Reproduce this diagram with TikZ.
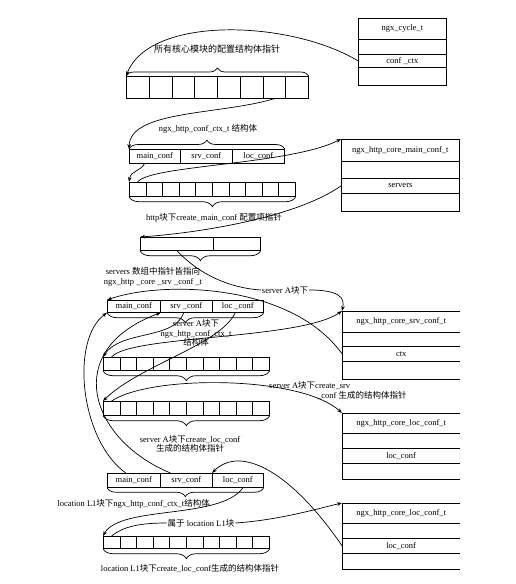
\documentclass[tikz,border=0pt]{standalone}
\usepackage{fontspec}
\setmainfont{Liberation Serif}
\newfontfamily\cjk{Noto Sans CJK SC}
\usetikzlibrary{decorations.pathreplacing,arrows.meta,calc}
\tikzset{
  ln/.style={line width=0.7pt},
  cellbox/.style={draw, line width=0.7pt, inner sep=0pt, anchor=north west},
  rowt/.style={inner sep=0pt, anchor=north west, minimum width=118pt},
  lbl/.style={inner sep=1pt},
  brc/.style={decorate, decoration={brace, amplitude=#1}, line width=0.7pt},
  con/.style={line width=0.7pt, -{Stealth[length=5pt,width=3.6pt]}},
  pl/.style={line width=0.7pt},
  every node/.style={font=\fontsize{8.5}{9.5}\selectfont}
}
\newcommand\mkcells[6]{\foreach \i in {1,...,#4}{\node[cellbox,minimum width=#5pt,minimum height=#6pt] (#1-\i) at ({#2+(\i-1)*#5},#3) {};}}
\begin{document}
\begin{tikzpicture}[x=1pt,y=-1pt]
\path[use as bounding box] (0,0) rectangle (515,584);

% ---------- ngx_cycle_t ----------
\node[cellbox,minimum width=88pt,minimum height=21pt] (cyc-1) at (358,18) {ngx\_cycle\_t};
\node[cellbox,minimum width=88pt,minimum height=15pt] (cyc-2) at (358,39) {};
\node[cellbox,minimum width=88pt,minimum height=13pt] (cyc-3) at (358,54) {conf \_ctx};
\node[cellbox,minimum width=88pt,minimum height=18pt] (cyc-4) at (358,67) {};

% ---------- array 1 ----------
\mkcells{a1}{126}{76}{8}{22.75}{22}
\draw[brc=8pt] (a1-1.north west) -- (a1-8.north east);
\node[lbl,font=\fontsize{9}{10}\selectfont\cjk] (t1) at (217,49) {所有核心模块的配置结构体指针};

% ---------- ctx 1 ----------
\node[cellbox,minimum width=51pt,minimum height=14pt] (c1m) at (129,149) {main\_conf};
\node[cellbox,minimum width=52pt,minimum height=14pt] (c1s) at (180,149) {srv\_conf};
\node[cellbox,minimum width=52pt,minimum height=14pt] (c1l) at (232,149) {loc\_conf};
\draw[brc=9pt] (c1m.north west) -- (c1l.north east);
\node[lbl] (t2) at (208,129) {ngx\_http\_conf\_ctx\_t {\cjk 结构体}};

% ---------- array 2 ----------
\mkcells{a2}{129}{182}{10}{16.6}{14}
\draw[brc=10pt] (a2-10.south east) -- (a2-1.south west);
\node[lbl] (t3) at (214,218) {http{\cjk 块下}create\_main\_conf {\cjk 配置项指针}};

% ---------- ngx_http_core_main_conf_t ----------
\node[cellbox,minimum width=118pt,minimum height=22pt] (cm-1) at (341,139) {ngx\_http\_core\_main\_conf\_t};
\node[cellbox,minimum width=118pt,minimum height=17pt] (cm-2) at (341,161) {};
\node[cellbox,minimum width=118pt,minimum height=15pt] (cm-3) at (341,178) {servers};
\node[cellbox,minimum width=118pt,minimum height=18pt] (cm-4) at (341,193) {};

% ---------- servers array ----------
\node[cellbox,minimum width=73pt,minimum height=13pt] (a3a) at (140,237) {};
\node[cellbox,minimum width=47pt,minimum height=13pt] (a3b) at (213,237) {};
\draw[brc=10pt] (a3b.south east) -- (a3a.south west);
\node[lbl,align=center] (t4) at (153,277) {servers {\cjk 数组中指针皆指向}\\ngx\_http \_core \_srv \_conf \_t};

% ---------- ctx 2 ----------
\node[cellbox,minimum width=53pt,minimum height=12pt] (c2m) at (107,300) {main\_conf};
\node[cellbox,minimum width=52pt,minimum height=12pt] (c2s) at (160,300) {srv \_conf};
\node[cellbox,minimum width=51pt,minimum height=12pt] (c2l) at (212,300) {loc \_conf};
\draw[brc=10pt] (c2l.south east) -- (c2m.south west);
\node[lbl,align=center] (t5) at (196,333) {server A{\cjk 块下}\\ngx\_http\_conf\_ctx\_t\\{\cjk 结构体}};

% ---------- ngx_http_core_srv_conf_t ----------
\node[rowt,minimum height=21pt] (srv-1) at (342,311) {ngx\_http\_core\_srv\_conf\_t};
\node[rowt,minimum height=14pt] (srv-2) at (342,332) {};
\node[rowt,minimum height=15pt] (srv-3) at (342,346) {ctx};
\node[rowt,minimum height=18pt] (srv-4) at (342,361) {};
\draw[ln] (srv-1.north east) -- (srv-1.north west) -- (srv-4.south west) -- (srv-4.south east);
\foreach \i in {1,2,3}{\draw[ln] (srv-\i.south west) -- (srv-\i.south east);}

% ---------- array 4 ----------
\mkcells{a4}{103}{357}{10}{16.6}{13}
\draw[brc=10pt] (a4-10.south east) -- (a4-1.south west);
\node[lbl,anchor=west] (t6a) at (268,386) {server A{\cjk 块下}create\_srv};
\node[lbl,anchor=west] (t6b) at (316,395) {\_conf {\cjk 生成的结构体指针}};

% ---------- array 5 ----------
\mkcells{a5}{103}{401}{10}{16.6}{14}
\draw[brc=10pt] (a5-10.south east) -- (a5-1.south west);
\node[lbl,align=center] (t7) at (190,444) {server A{\cjk 块下}create\_loc\_conf\\{\cjk 生成的结构体指针}};

% ---------- ngx_http_core_loc_conf_t (server) ----------
\node[rowt,minimum height=20pt] (lc1-1) at (342,413) {ngx\_http\_core\_loc\_conf\_t};
\node[rowt,minimum height=15pt] (lc1-2) at (342,433) {};
\node[rowt,minimum height=15pt] (lc1-3) at (342,448) {loc\_conf};
\node[rowt,minimum height=16pt] (lc1-4) at (342,463) {};
\draw[ln] (lc1-1.north east) -- (lc1-1.north west) -- (lc1-4.south west) -- (lc1-4.south east);
\foreach \i in {1,2,3}{\draw[ln] (lc1-\i.south west) -- (lc1-\i.south east);}

% ---------- ctx 3 ----------
\node[cellbox,minimum width=53pt,minimum height=14pt] (c3m) at (107,473) {main\_conf};
\node[cellbox,minimum width=52pt,minimum height=14pt] (c3s) at (160,473) {srv\_conf};
\node[cellbox,minimum width=51pt,minimum height=14pt] (c3l) at (212,473) {loc\_conf};
\draw[brc=9pt] (c3l.south east) -- (c3m.south west);
\node[lbl,anchor=east] (t8) at (211,504) {location L1{\cjk 块下}ngx\_http\_conf\_ctx\_t{\cjk 结构体}};

% ---------- array 6 ----------
\mkcells{a6}{103}{536}{10}{16.6}{12}
\draw[brc=10pt] (a6-10.south east) -- (a6-1.south west);
\node[lbl] (t9) at (190,568) {location L1{\cjk 块下}create\_loc\_conf{\cjk 生成的结构体指针}};

% ---------- ngx_http_core_loc_conf_t (location) ----------
\node[rowt,minimum height=20pt] (lc2-1) at (342,503) {ngx\_http\_core\_loc\_conf\_t};
\node[rowt,minimum height=15pt] (lc2-2) at (342,523) {};
\node[rowt,minimum height=15pt] (lc2-3) at (342,538) {loc\_conf};
\node[rowt,minimum height=16pt] (lc2-4) at (342,553) {};
\draw[ln] (lc2-1.north east) -- (lc2-1.north west) -- (lc2-4.south west) -- (lc2-4.south east);
\foreach \i in {1,2,3}{\draw[ln] (lc2-\i.south west) -- (lc2-\i.south east);}

% ---------- labels on connectors ----------
\node[lbl] (sA) at (285,290) {server A{\cjk 块下}};
\node[lbl] (sB) at (201,523) {{\cjk 属于} location L1{\cjk 块}};

% ---------- connectors ----------
\draw[con] (cyc-3.west) .. controls (290,20) and (150,15) .. (a1-1.north west);
\draw[con] (a1-7.south) .. controls (220,115) and (130,110) .. (c1m.north west);
\draw[con] ($(c1m.south west)!0.3!(c1m.south east)$) .. controls (140,172) and (131,170) .. (a2-1.north west);
\draw[con] (a2-1.north) .. controls (150,165) and (290,165) .. (cm-1.north west);
\draw[con] (cm-3.west) .. controls (300,215) and (210,232) .. (a3a.north west);
\draw[pl] (a3a.south) .. controls (200,275) and (230,288) .. (sA.west);
\draw[con] (sA.east) .. controls (340,290) and (345,298) .. (srv-1.north west);
\draw[con] (srv-3.west) .. controls (290,282) and (160,281) .. (c2m.north west);
\draw[con] (a4-1.north) .. controls (130,335) and (300,340) .. (srv-1.north west);
\draw[con] ($(c2s.south west)!0.45!(c2s.south east)$) .. controls (175,340) and (120,330) .. (a4-1.north west);
\draw[con] ($(c2l.south west)!0.45!(c2l.south east)$) .. controls (220,345) and (140,365) .. (a5-1.north west);
\draw[con] (a5-1.north) .. controls (150,375) and (300,375) .. (lc1-1.north west);
\draw[con] ($(c3m.north west)!0.35!(c3m.north east)$) .. controls (80,440) and (70,340) .. (c2m.south west);
\draw[con] ($(c3s.north west)!0.2!(c3s.north east)$) .. controls (90,440) and (60,350) .. (c2m.south east);
\draw[con] (lc2-3.west) .. controls (290,470) and (240,445) .. (c3l.north west);
\draw[con] ($(c3l.south west)!0.6!(c3l.south east)$) .. controls (220,520) and (120,505) .. (a6-1.north west);
\draw[pl] (a6-1.north) .. controls (125,525) and (145,523) .. (sB.west);
\draw[con] (sB.east) .. controls (280,520) and (320,508) .. (lc2-1.north west);
\end{tikzpicture}
\end{document}
